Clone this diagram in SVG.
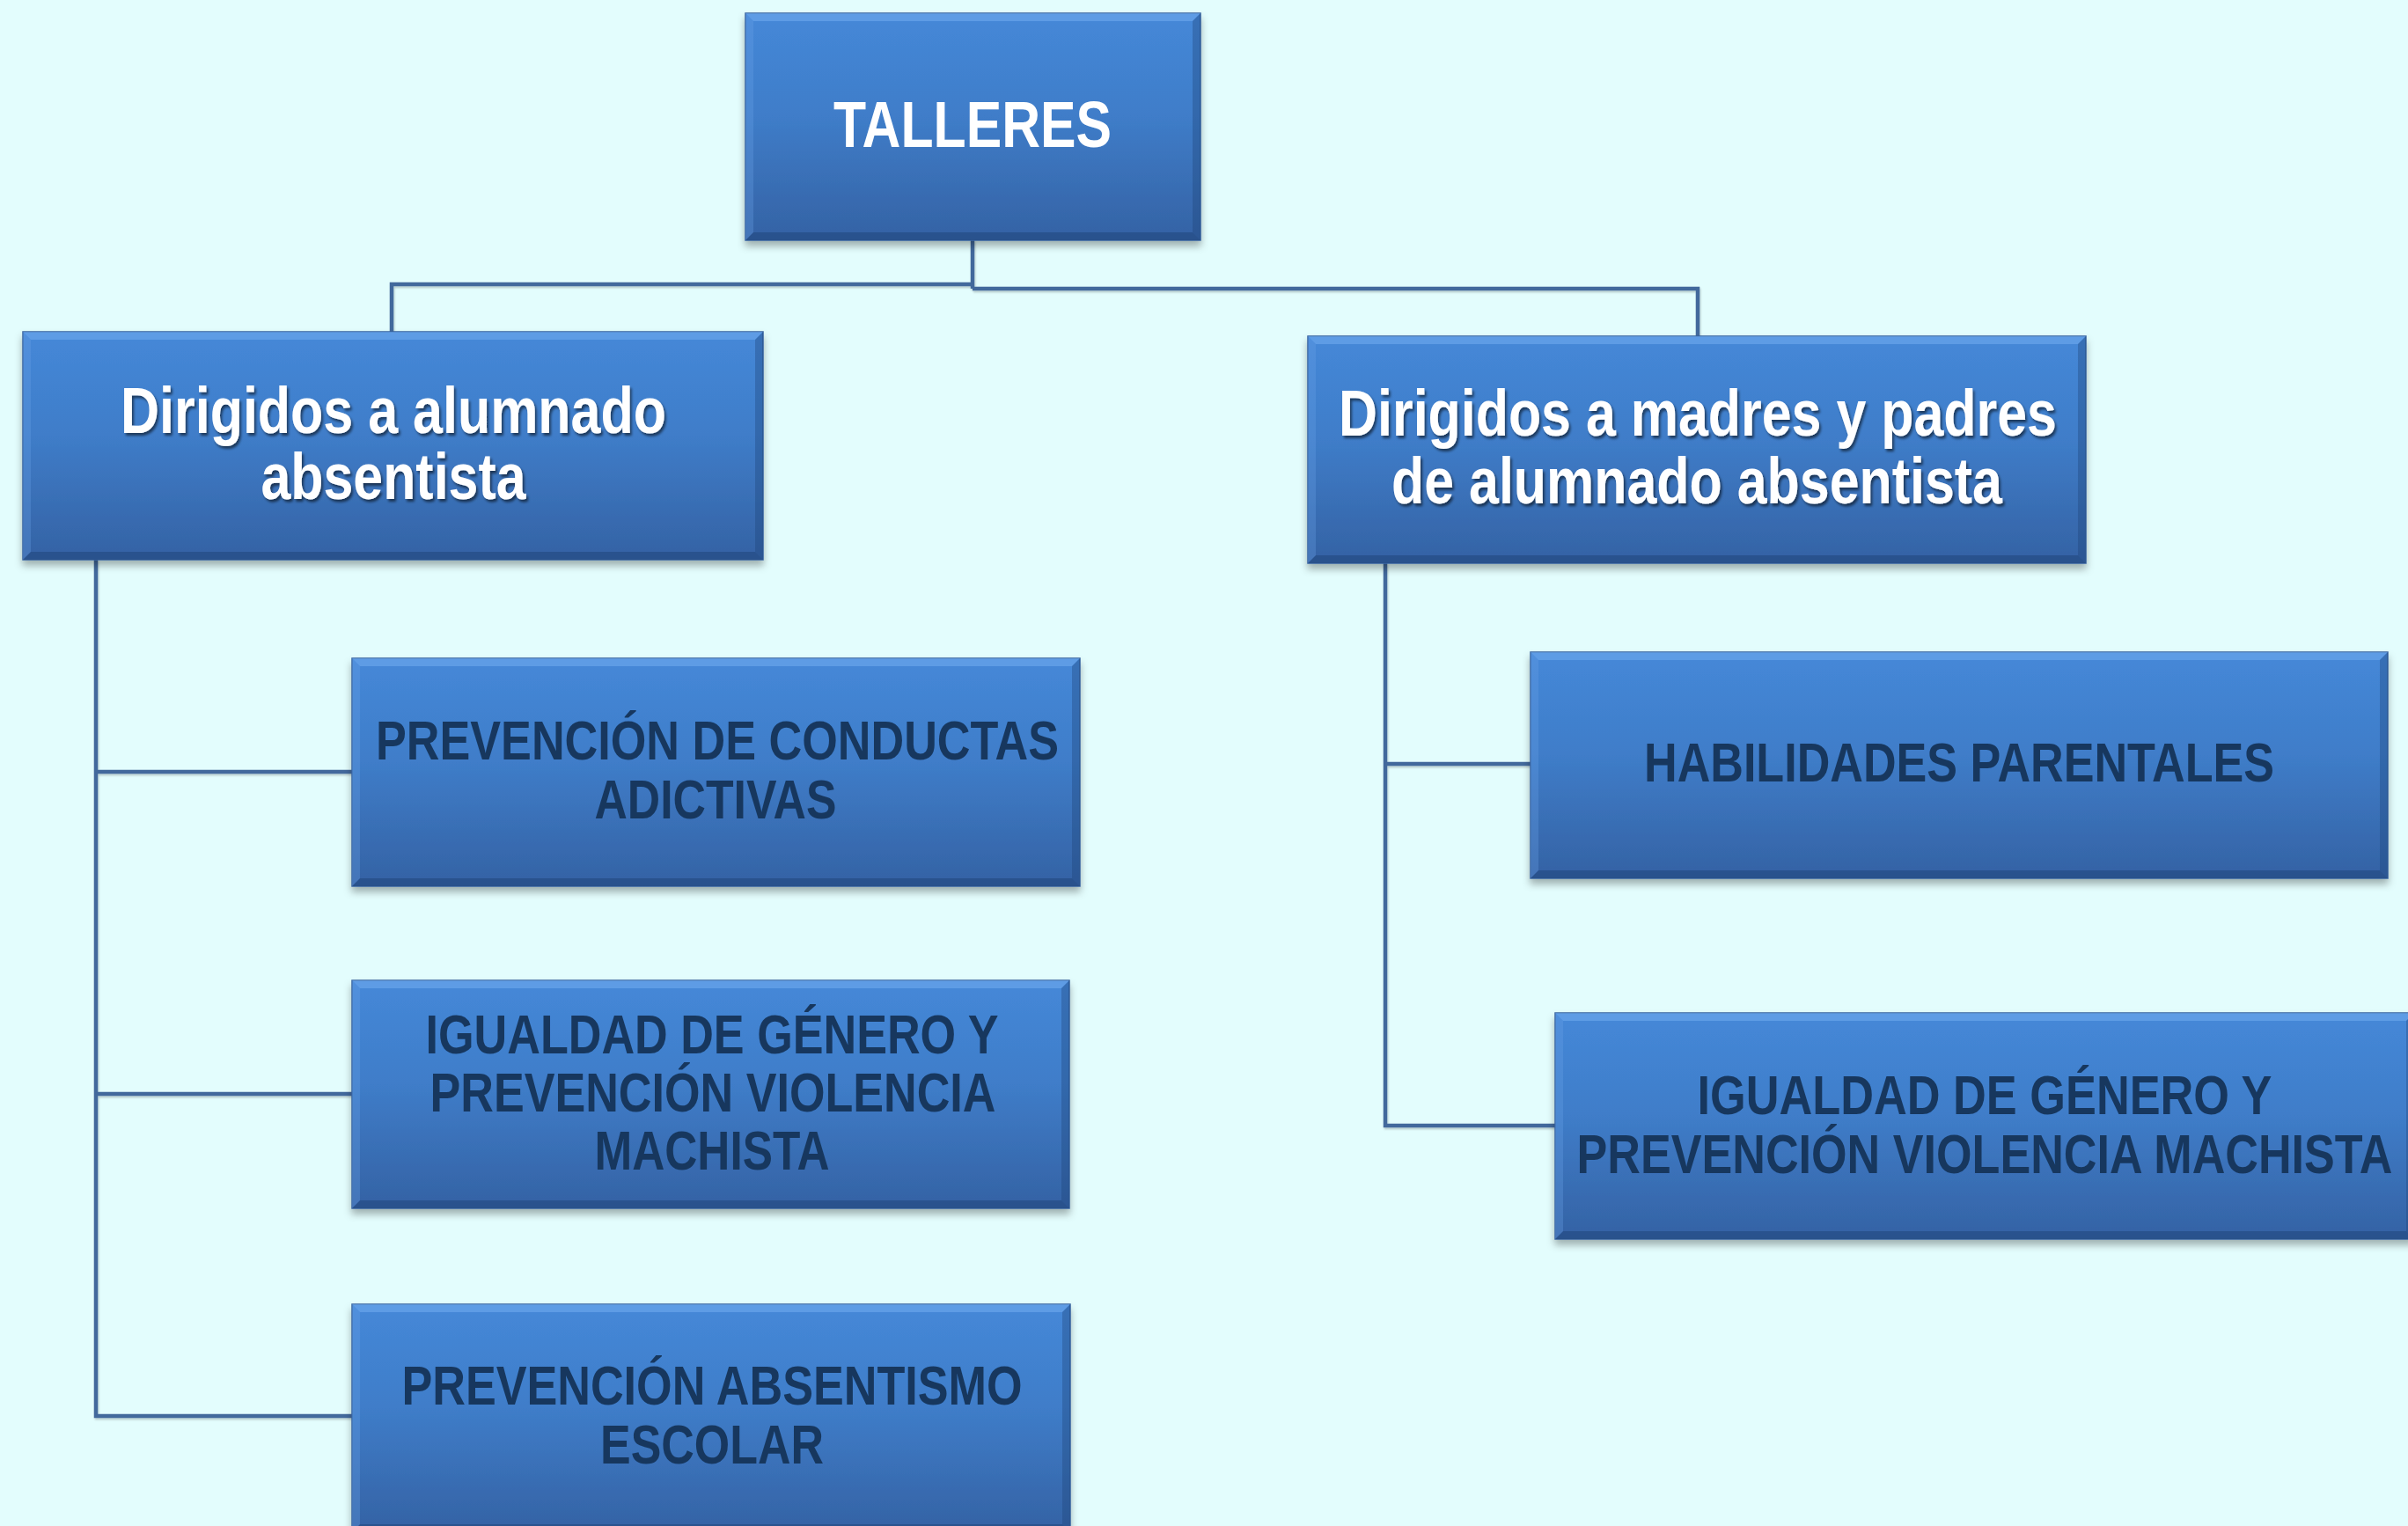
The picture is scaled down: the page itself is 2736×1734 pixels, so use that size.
<svg xmlns="http://www.w3.org/2000/svg" width="2736" height="1734" viewBox="0 0 2736 1734">
<defs>
<linearGradient id="g" x1="0" y1="0" x2="0" y2="1">
<stop offset="0" stop-color="#4588d8"/>
<stop offset="0.45" stop-color="#3f7dc9"/>
<stop offset="1" stop-color="#3462a4"/>
</linearGradient>
<filter id="sh" x="-5%" y="-5%" width="110%" height="120%">
<feDropShadow dx="0" dy="6" stdDeviation="4" flood-color="#000" flood-opacity="0.3"/>
</filter>
<filter id="ts" x="-5%" y="-20%" width="110%" height="150%">
<feDropShadow dx="2" dy="3" stdDeviation="1.5" flood-color="#000" flood-opacity="0.55"/>
</filter>
<filter id="ls" x="-2%" y="-2%" width="104%" height="104%">
<feDropShadow dx="1" dy="2" stdDeviation="1" flood-color="#000" flood-opacity="0.2"/>
</filter>
</defs>
<style>
.box{fill:url(#g);stroke:#35629e;stroke-width:1.5}
.bt{fill:#73adf0;opacity:.55}
.bb{fill:#1d4275;opacity:.5}
.bl{fill:#6aa3e8;opacity:.3}
.br{fill:#1d4275;opacity:.35}
.w{font-family:"Liberation Sans",Arial,sans-serif;font-weight:bold;font-size:75px;fill:#fff;text-anchor:middle}
.d{font-family:"Liberation Sans",Arial,sans-serif;font-weight:bold;font-size:63px;fill:#17375e;text-anchor:middle}
.c{fill:none;stroke:#43699c;stroke-width:4.5}
</style>
<rect width="2736" height="1734" fill="#e3fdfd"/>
<g id="connectors" filter="url(#ls)">
<path class="c" d="M1105 273 V328 M1105 323 H445 V377 M1105 328 H1929 V382"/>
<path class="c" d="M109 636 V1609 H400 M109 877 H400 M109 1243 H400"/>
<path class="c" d="M1574 640 V1279 H1767 M1574 868 H1739"/>
</g>
<g id="talleres">
<g filter="url(#sh)"><rect class="box" x="847" y="15" width="517" height="258"/></g>
<polygon class="bt" points="847,15 1364,15 1355,24 856,24"/>
<polygon class="bb" points="847,273 1364,273 1355,264 856,264"/>
<polygon class="bl" points="847,15 856,24 856,264 847,273"/>
<polygon class="br" points="1364,15 1355,24 1355,264 1364,273"/>
<text class="w" x="1105" y="167" textLength="316" lengthAdjust="spacingAndGlyphs">TALLERES</text>
</g>
<g id="alumnado">
<g filter="url(#sh)"><rect class="box" x="26" y="377" width="841" height="259"/></g>
<polygon class="bt" points="26,377 867,377 858,386 35,386"/>
<polygon class="bb" points="26,636 867,636 858,627 35,627"/>
<polygon class="bl" points="26,377 35,386 35,627 26,636"/>
<polygon class="br" points="867,377 858,386 858,627 867,636"/>
<g filter="url(#ts)">
<text class="w" x="447" y="492" textLength="620" lengthAdjust="spacingAndGlyphs">Dirigidos a alumnado</text>
<text class="w" x="447" y="567" textLength="301" lengthAdjust="spacingAndGlyphs">absentista</text>
</g>
</g>
<g id="padres">
<g filter="url(#sh)"><rect class="box" x="1486" y="382" width="884" height="258"/></g>
<polygon class="bt" points="1486,382 2370,382 2361,391 1495,391"/>
<polygon class="bb" points="1486,640 2370,640 2361,631 1495,631"/>
<polygon class="bl" points="1486,382 1495,391 1495,631 1486,640"/>
<polygon class="br" points="2370,382 2361,391 2361,631 2370,640"/>
<g filter="url(#ts)">
<text class="w" x="1929" y="495" textLength="816" lengthAdjust="spacingAndGlyphs">Dirigidos a madres y padres</text>
<text class="w" x="1928" y="572" textLength="694" lengthAdjust="spacingAndGlyphs">de alumnado absentista</text>
</g>
</g>
<g id="conductas">
<g filter="url(#sh)"><rect class="box" x="400" y="748" width="827" height="259"/></g>
<polygon class="bt" points="400,748 1227,748 1218,757 409,757"/>
<polygon class="bb" points="400,1007 1227,1007 1218,998 409,998"/>
<polygon class="bl" points="400,748 409,757 409,998 400,1007"/>
<polygon class="br" points="1227,748 1218,757 1218,998 1227,1007"/>
<text class="d" x="815" y="863" textLength="776" lengthAdjust="spacingAndGlyphs">PREVENCIÓN DE CONDUCTAS</text>
<text class="d" x="813" y="930" textLength="275" lengthAdjust="spacingAndGlyphs">ADICTIVAS</text>
</g>
<g id="igualdad-alumnado">
<g filter="url(#sh)"><rect class="box" x="400" y="1114" width="815" height="259"/></g>
<polygon class="bt" points="400,1114 1215,1114 1206,1123 409,1123"/>
<polygon class="bb" points="400,1373 1215,1373 1206,1364 409,1364"/>
<polygon class="bl" points="400,1114 409,1123 409,1364 400,1373"/>
<polygon class="br" points="1215,1114 1206,1123 1206,1364 1215,1373"/>
<text class="d" x="809" y="1197" textLength="651" lengthAdjust="spacingAndGlyphs">IGUALDAD DE GÉNERO Y</text>
<text class="d" x="810" y="1263" textLength="643" lengthAdjust="spacingAndGlyphs">PREVENCIÓN VIOLENCIA</text>
<text class="d" x="809" y="1329" textLength="267" lengthAdjust="spacingAndGlyphs">MACHISTA</text>
</g>
<g id="absentismo">
<g filter="url(#sh)"><rect class="box" x="400" y="1482" width="816" height="259"/></g>
<polygon class="bt" points="400,1482 1216,1482 1207,1491 409,1491"/>
<polygon class="bb" points="400,1741 1216,1741 1207,1732 409,1732"/>
<polygon class="bl" points="400,1482 409,1491 409,1732 400,1741"/>
<polygon class="br" points="1216,1482 1207,1491 1207,1732 1216,1741"/>
<text class="d" x="809" y="1596" textLength="705" lengthAdjust="spacingAndGlyphs">PREVENCIÓN ABSENTISMO</text>
<text class="d" x="809" y="1663" textLength="254" lengthAdjust="spacingAndGlyphs">ESCOLAR</text>
</g>
<g id="habilidades">
<g filter="url(#sh)"><rect class="box" x="1739" y="741" width="974" height="257"/></g>
<polygon class="bt" points="1739,741 2713,741 2704,750 1748,750"/>
<polygon class="bb" points="1739,998 2713,998 2704,989 1748,989"/>
<polygon class="bl" points="1739,741 1748,750 1748,989 1739,998"/>
<polygon class="br" points="2713,741 2704,750 2704,989 2713,998"/>
<text class="d" x="2226" y="888" textLength="716" lengthAdjust="spacingAndGlyphs">HABILIDADES PARENTALES</text>
</g>
<g id="igualdad-padres">
<g filter="url(#sh)"><rect class="box" x="1767" y="1151" width="976" height="257"/></g>
<polygon class="bt" points="1767,1151 2743,1151 2734,1160 1776,1160"/>
<polygon class="bb" points="1767,1408 2743,1408 2734,1399 1776,1399"/>
<polygon class="bl" points="1767,1151 1776,1160 1776,1399 1767,1408"/>
<polygon class="br" points="2743,1151 2734,1160 2734,1399 2743,1408"/>
<text class="d" x="2255" y="1266" textLength="653" lengthAdjust="spacingAndGlyphs">IGUALDAD DE GÉNERO Y</text>
<text class="d" x="2255" y="1333" textLength="927" lengthAdjust="spacingAndGlyphs">PREVENCIÓN VIOLENCIA MACHISTA</text>
</g>
</svg>
